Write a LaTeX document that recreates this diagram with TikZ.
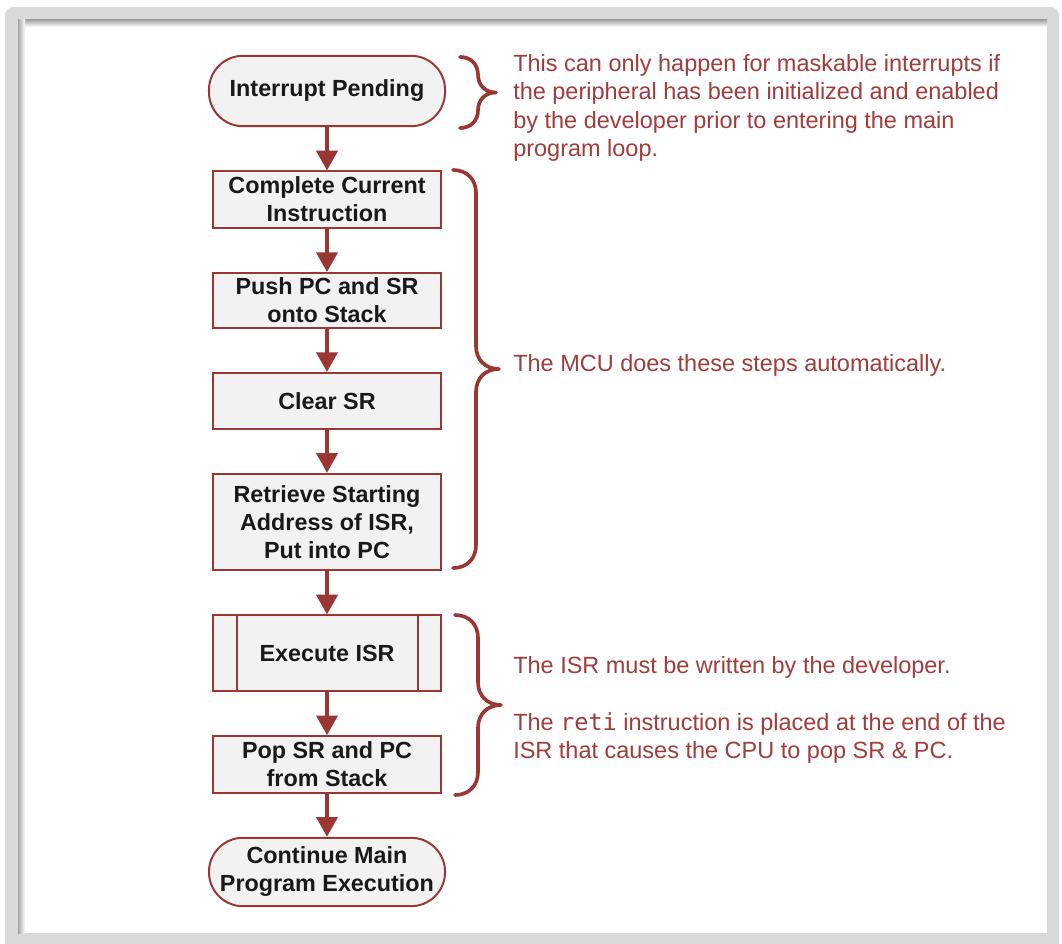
\documentclass[tikz,border=0pt]{standalone}
\usepackage{fontspec}
\setmainfont{Liberation Sans}
\newfontfamily\codefont{DejaVu Sans Mono}
\usetikzlibrary{arrows.meta, positioning}
\definecolor{ruby}{HTML}{9A3733}
\definecolor{notered}{HTML}{A03C3C}
\definecolor{boxfill}{HTML}{F2F2F2}
\definecolor{framegray}{HTML}{D9D9D9}

% curly brace: x, top, bottom, curl size (all in px units)
\newcommand{\sidebrace}[4]{%
  \pgfmathsetmacro{\bmid}{(#2+#3)/2}
  \draw[bracestyle] (#1,#2) .. controls (#1+0.6*#4,#2) and (#1+#4,#2-0.4*#4) .. (#1+#4,#2-#4)
    -- (#1+#4,\bmid+#4) .. controls (#1+#4,\bmid+0.4*#4) and (#1+1.4*#4,\bmid) .. (#1+2*#4,\bmid)
    .. controls (#1+1.4*#4,\bmid) and (#1+#4,\bmid-0.4*#4) .. (#1+#4,\bmid-#4)
    -- (#1+#4,#3+#4) .. controls (#1+#4,#3+0.4*#4) and (#1+0.6*#4,#3) .. (#1,#3);
}

\begin{document}
\begin{tikzpicture}[
  x=0.025cm, y=0.025cm,
  node distance=1.08cm,
  stepbox/.style={rectangle, draw=ruby, line width=1.4pt, fill=boxfill, align=center, inner sep=1pt,
    minimum width=5.68cm, font=\fontsize{16.6}{19.9}\selectfont\bfseries, text=black!90},
  terminal/.style={stepbox, rounded corners=0.85cm, minimum width=5.9cm},
  boxline/.style={draw=ruby, line width=1.4pt},
  flow/.style={draw=ruby, line width=2.6pt, -{Triangle[width=15pt,length=14pt]}},
  bracestyle/.style={draw=ruby, line width=2.6pt, line join=round, line cap=round},
  note/.style={anchor=west, align=left, inner sep=0pt, text=notered,
    font=\fontsize{16.7}{20.3}\selectfont},
]
\useasboundingbox (0,0) rectangle (1062,-944);
% frame
\fill[framegray, rounded corners=6pt] (5,-7) rectangle (1059,-960);
\fill[white] (18,-20) rectangle (1047,-933);
\shade[top color=black!35, bottom color=white] (18,-20) rectangle (1047,-27);
\shade[left color=black!35, right color=white] (18,-20) rectangle (25,-933);

% flow
\node[terminal, minimum height=1.76cm] (pending) at (327,-91) {Interrupt Pending};
\node[stepbox, below=of pending, minimum height=1.41cm] (complete) {Complete Current\\Instruction};
\node[stepbox, below=of complete, minimum height=1.37cm] (push) {Push PC and SR\\onto Stack};
\node[stepbox, below=of push, minimum height=1.39cm] (clear) {Clear SR};
\node[stepbox, below=of clear, minimum height=2.41cm] (retrieve) {Retrieve Starting\\Address of ISR,\\Put into PC};
\node[stepbox, below=of retrieve, minimum height=1.89cm] (execute) {Execute ISR};
\node[stepbox, below=of execute, minimum height=1.41cm] (pop) {Pop SR and PC\\from Stack};
\node[terminal, below=of pop, minimum height=1.71cm] (resume) {Continue Main\\Program Execution};

\draw[boxline] ([xshift=0.625cm]execute.north west) -- ([xshift=0.625cm]execute.south west);
\draw[boxline] ([xshift=-0.6cm]execute.north east) -- ([xshift=-0.6cm]execute.south east);

\draw[flow] (pending) -- (complete);
\draw[flow] (complete) -- (push);
\draw[flow] (push) -- (clear);
\draw[flow] (clear) -- (retrieve);
\draw[flow] (retrieve) -- (execute);
\draw[flow] (execute) -- (pop);
\draw[flow] (pop) -- (resume);

% notes
\sidebrace{460}{-57}{-128}{18}
\sidebrace{453}{-170}{-568}{23}
\sidebrace{455}{-615}{-795}{23}

\node[note] (masknote) at (513,-108) {This can only happen for maskable interrupts if\\the peripheral has been initialized and enabled\\by the developer prior to entering the main\\program loop.};
\node[note] (autonote) at (513,-365) {The MCU does these steps automatically.};
\node[note] (isrnote) at (513,-667) {The ISR must be written by the developer.};
\node[note] (retinote) at (513,-738) {The {\codefont reti} instruction is placed at the end of the\\ISR that causes the CPU to pop SR \& PC.};
\end{tikzpicture}
\end{document}
